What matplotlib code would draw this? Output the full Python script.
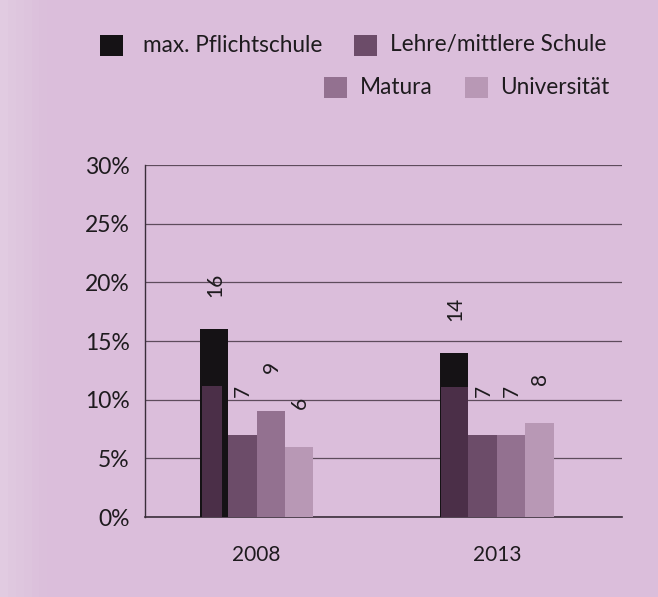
import numpy as np
import matplotlib.pyplot as plt
from matplotlib.patches import Rectangle

years = ['2008', '2013']
series = ['max. Pflichtschule', 'Lehre/mittlere Schule', 'Matura', 'Universität']
values = {
    'max. Pflichtschule': [16, 14],
    'Lehre/mittlere Schule': [7, 7],
    'Matura': [9, 7],
    'Universität': [6, 8],
}
# dark overprint visible inside the first bar of each group (scan artefact)
ghost = [11.2, 11.1]
yticks = [0, 5, 10, 15, 20, 25, 30]

colors = ['#151215', '#6c4c69', '#937190', '#b898b5']
ghost_color = '#4b2f48'
bg = '#dbbedb'

plt.rcParams['font.family'] = ['Lato', 'DejaVu Sans']

fig = plt.figure(figsize=(6.58, 5.97), dpi=100, facecolor=bg)
# lighter band on the left edge of the scan
for i, a in enumerate(np.linspace(0.55, 0.05, 6)):
    fig.patches.append(Rectangle((i * 0.012, 0), 0.012, 1, transform=fig.transFigure,
                                 facecolor='#e6d6e6', alpha=a, edgecolor='none', zorder=0))
ax = fig.add_axes([0.2204, 0.134, 0.7246, 0.5896])
ax.set_facecolor('none')

x = np.arange(len(years))
w = 0.118
offsets = (np.arange(len(series)) - 1.5) * w

for s, off, c in zip(series, offsets, colors):
    bars = ax.bar(x + off, values[s], width=w, color=c, zorder=3)
    for b, v in zip(bars, values[s]):
        ax.annotate(str(v), (b.get_x() + b.get_width() / 2, v),
                    xytext=(1, 44), textcoords='offset pixels',
                    ha='center', va='center', rotation=90,
                    fontsize=15, color='#1e1b1e')

gw = [0.085, 0.11]
gx = [x[0] + offsets[0] - w / 2 + 0.008, x[1] + offsets[0] - w / 2 + 0.004]
ax.bar(gx, ghost, width=gw, align='edge', color=ghost_color, zorder=4)

ax.set_ylim(0, 30)
ax.set_xlim(-0.464, 1.52)
ax.set_yticks(yticks)
ax.set_yticklabels([f'{t}%' for t in yticks], fontsize=16.5, color='#1e1b1e')
ax.set_xticks(x)
ax.set_xticklabels(years, fontsize=15, color='#1e1b1e')
ax.tick_params(length=0)
ax.tick_params(axis='y', pad=11)
ax.tick_params(axis='x', pad=20)
ax.grid(axis='y', color='#5e4c5c', linewidth=0.9, zorder=1)
for side in ['top', 'right']:
    ax.spines[side].set_visible(False)
ax.spines['left'].set_color('#3a2e3a')
ax.spines['bottom'].set_color('#3a2e3a')
ax.spines['left'].set_linewidth(1.0)
ax.spines['bottom'].set_linewidth(1.2)

# legend, two right-aligned rows
W, H = 658, 597
items = [
    (100, 45, 143, series[0], colors[0]),
    (354, 45, 390, series[1], colors[1]),
    (324, 87, 360, series[2], colors[2]),
    (465, 87, 500, series[3], colors[3]),
]
for px, py, tx, label, c in items:
    fig.patches.append(Rectangle((px / W, 1 - (py + 11) / H), 23 / W, 21 / H,
                                 transform=fig.transFigure, facecolor=c,
                                 edgecolor='none'))
    fig.text(tx / W, 1 - py / H, label, fontsize=16.3,
             color='#1e1b1e', va='center', ha='left')

fig.savefig('out.png', dpi=100, facecolor=bg)
